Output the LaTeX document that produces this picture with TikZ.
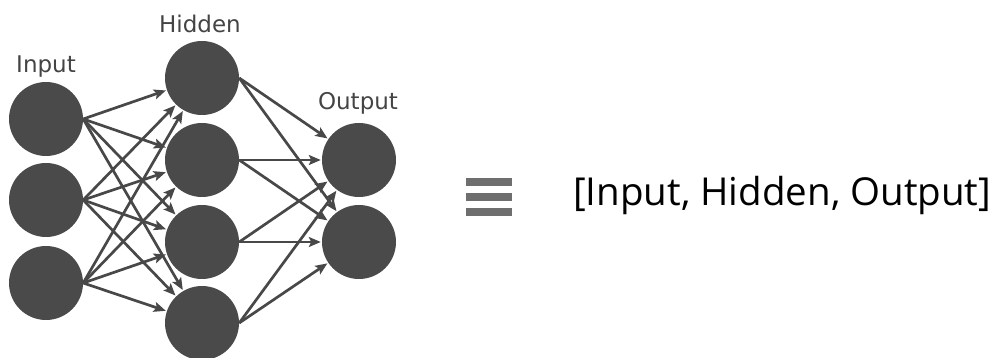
\documentclass[tikz,border=0pt]{standalone}
\usepackage{fontspec}
\setmainfont{Open Sans}
\newfontfamily\labfont{DejaVu Sans}
\usetikzlibrary{arrows.meta}
\definecolor{nodegray}{HTML}{4A4A4A}
\definecolor{edgegray}{HTML}{484848}
\definecolor{labgray}{HTML}{444444}
\definecolor{bargray}{HTML}{6E6E6E}
\begin{document}
\begin{tikzpicture}[x=1pt,y=1pt,
  neuron/.style={circle,fill=nodegray,minimum size=74pt,inner sep=0pt},
  lab/.style={font=\labfont\fontsize{23}{27}\selectfont,text=labgray,inner sep=0pt,anchor=base},
  conn/.style={draw=edgegray,line width=2.7pt,-{Stealth[length=12pt,width=10pt,inset=2.5pt]}, shorten >=1pt},
  bar/.style={fill=bargray,draw=none}]
\useasboundingbox (0,0) rectangle (996,358);
% input layer
\node[neuron] (i1) at (46,239) {};
\node[neuron] (i2) at (46,158) {};
\node[neuron] (i3) at (46,75) {};
% hidden layer
\node[neuron] (h1) at (202,280) {};
\node[neuron] (h2) at (202,198) {};
\node[neuron] (h3) at (202,116) {};
\node[neuron] (h4) at (202,35) {};
% output layer
\node[neuron] (o1) at (359,198) {};
\node[neuron] (o2) at (359,116) {};
% labels
\node[lab] (li) at (46,285) {Input};
\node[lab] (lh) at (200,325) {Hidden};
\node[lab] (lo) at (358,248) {Output};
% connections
\foreach \a in {i1,i2,i3}
  \foreach \b in {h1,h2,h3,h4}
    \draw[conn] (\a.east) -- (\b);
\foreach \a in {h1,h2,h3,h4}
  \foreach \b in {o1,o2}
    \draw[conn] (\a.east) -- (\b);
% equivalence symbol
\fill[bar] (466,172) rectangle (512,180);
\fill[bar] (466,157) rectangle (512,165);
\fill[bar] (466,142) rectangle (512,150);
% list text
\node[anchor=base west,inner sep=0pt,font=\fontsize{38.5}{46}\selectfont] (lst) at (573,152) {[Input, Hidden, Output]};
\end{tikzpicture}
\end{document}
